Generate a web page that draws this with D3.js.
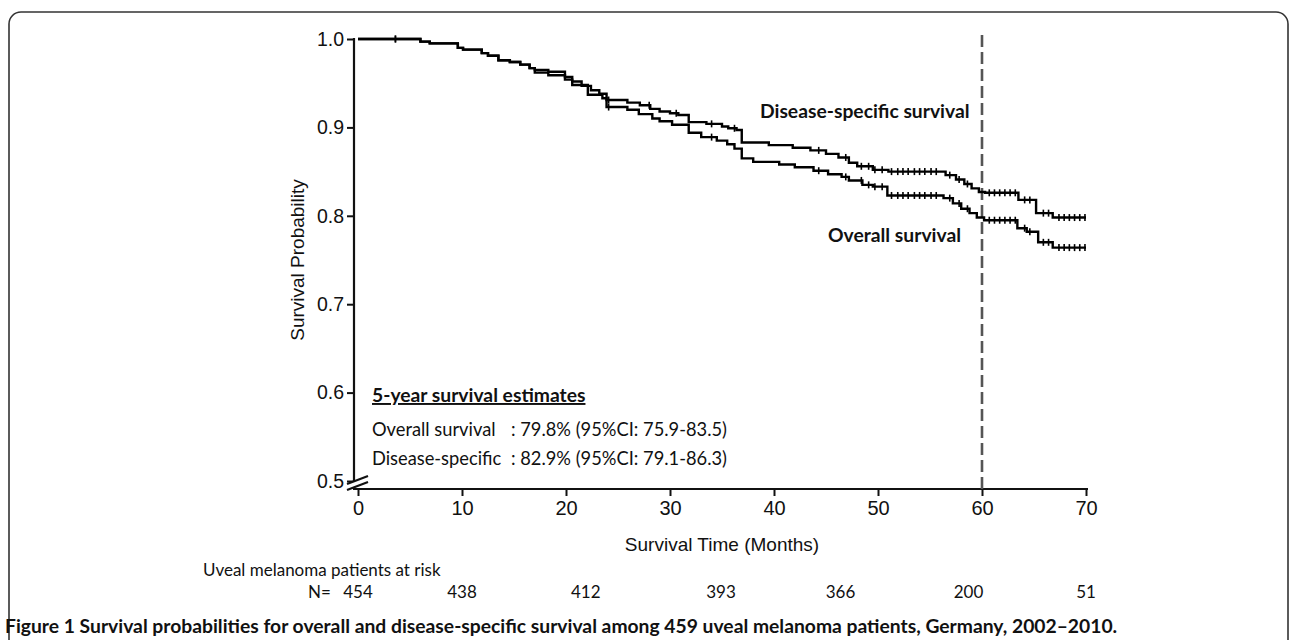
<!doctype html>
<html lang="en">
<head>
<meta charset="utf-8">
<title>Survival probabilities - D3</title>
<style>
  body { margin: 0; background: #fff; }
  svg text { font-family: "Liberation Sans", Arial, sans-serif; fill: #111; }
  svg text.cal { font-family: Lato, "Open Sans", sans-serif; }
</style>
</head>
<body>
<svg id="chart"></svg>
<script src="https://cdn.jsdelivr.net/npm/d3@7/dist/d3.min.js"></script>
<script>
  const width = 1290;
  const height = 640;

  // Kaplan-Meier steps (months, survival probability)
  const dssTimes = [0, 6.0, 6.9, 9.6, 10.1, 11.9, 12.5, 13.5, 14.6, 15.6, 16.5, 17.0, 18.3, 19.9, 20.6, 21.5, 22.4, 23.2, 23.9, 25.9, 27.1, 28.1, 29.0, 30.0, 30.8, 31.8, 33.5, 35.0, 35.6, 36.4, 36.9, 39.5, 41.8, 43.5, 45.0, 46.2, 47.2, 48.0, 49.5, 51.0, 56.5, 57.5, 58.3, 59.0, 59.7, 60.3, 63.5, 65.2, 66.8];
  const dssSurv  = [1.000, 0.997, 0.995, 0.990, 0.988, 0.984, 0.981, 0.976, 0.974, 0.971, 0.967, 0.965, 0.963, 0.957, 0.952, 0.947, 0.942, 0.938, 0.931, 0.928, 0.925, 0.921, 0.918, 0.916, 0.914, 0.906, 0.904, 0.901, 0.899, 0.897, 0.883, 0.880, 0.877, 0.874, 0.870, 0.866, 0.860, 0.856, 0.852, 0.850, 0.846, 0.841, 0.836, 0.831, 0.827, 0.826, 0.818, 0.803, 0.798];

  const osTimes = [0, 6.0, 6.9, 9.6, 10.1, 11.9, 12.5, 13.5, 14.6, 15.6, 16.5, 17.0, 18.3, 19.9, 20.6, 22.1, 23.5, 23.9, 25.9, 27.0, 28.3, 29.0, 30.2, 31.8, 33.0, 34.5, 35.5, 36.2, 36.9, 38.0, 40.5, 42.0, 43.8, 45.2, 46.5, 47.2, 48.5, 49.5, 50.9, 56.3, 57.2, 58.0, 58.8, 59.5, 60.2, 63.4, 64.3, 65.4, 66.8];
  const osSurv  = [1.000, 0.997, 0.995, 0.990, 0.988, 0.984, 0.981, 0.976, 0.974, 0.971, 0.967, 0.962, 0.959, 0.954, 0.948, 0.937, 0.933, 0.923, 0.920, 0.915, 0.910, 0.907, 0.903, 0.894, 0.889, 0.885, 0.881, 0.876, 0.865, 0.861, 0.858, 0.855, 0.851, 0.847, 0.844, 0.840, 0.835, 0.833, 0.823, 0.820, 0.814, 0.808, 0.803, 0.798, 0.795, 0.786, 0.782, 0.770, 0.764];

  // censoring marks (months)
  const dssCensor = [3.6, 24.1, 28.0, 30.6, 34.0, 36.2, 44.3, 46.9, 48.4, 49.1, 49.7, 50.4, 51.3, 51.9, 52.4, 52.9, 53.5, 54.0, 54.5, 55.1, 55.6, 56.9, 57.8, 58.6, 60.7, 61.2, 61.7, 62.2, 62.7, 63.2, 64.1, 64.6, 65.9, 66.4, 67.4, 67.9, 68.4, 68.9, 69.4, 69.9];
  const osCensor  = [3.6, 24.1, 34.0, 44.3, 46.9, 48.4, 49.1, 49.7, 50.4, 51.3, 51.9, 52.4, 52.9, 53.5, 54.0, 54.5, 55.1, 55.6, 56.9, 57.8, 58.6, 60.7, 61.2, 61.7, 62.2, 62.7, 63.2, 64.1, 64.6, 65.9, 66.4, 67.4, 67.9, 68.4, 68.9, 69.4, 69.9];

  const xTicks = [0, 10, 20, 30, 40, 50, 60, 70];
  const yTicks = [0.5, 0.6, 0.7, 0.8, 0.9, 1.0];
  const riskCounts = [454, 438, 412, 393, 366, 200, 51];
  const riskAt = [0, 10, 21.9, 34.9, 46.4, 58.7, 70];
  const landmark = 60;

  const estimateRows = [
    ['Overall survival', ': 79.8% (95%CI: 75.9-83.5)'],
    ['Disease-specific', ': 82.9% (95%CI: 79.1-86.3)']
  ];

  const svg = d3.select('#chart')
    .attr('width', width)
    .attr('height', height)
    .attr('viewBox', [0, 0, width, height]);

  // 外框
  svg.append('rect')
    .attr('x', 9).attr('y', 12)
    .attr('width', 1279).attr('height', 660)
    .attr('rx', 12)
    .attr('fill', 'none')
    .attr('stroke', '#333')
    .attr('stroke-width', 1.6);

  const x = d3.scaleLinear().domain([0, 70]).range([358, 1086]);
  const y = d3.scaleLinear().domain([0.5, 1]).range([481, 39]);
  const axisY = 489;
  const axisX = 354;

  // y axis
  svg.append('g')
    .attr('transform', 'translate(' + axisX + ',0)')
    .call(d3.axisLeft(y).tickValues(yTicks).tickFormat(d3.format('.1f')).tickSize(7).tickSizeOuter(0).tickPadding(3))
    .call(g => g.select('.domain').remove())
    .call(g => g.selectAll('.tick line').attr('stroke', '#111').attr('stroke-width', 2))
    .call(g => g.selectAll('.tick text').attr('font-size', 19.5).attr('font-family', '"Liberation Sans", Arial, sans-serif').attr('fill', '#111'));

  svg.append('line')
    .attr('x1', axisX).attr('x2', axisX)
    .attr('y1', y(1) - 1).attr('y2', axisY)
    .attr('stroke', '#111').attr('stroke-width', 2.2);

  // axis break
  svg.append('path')
    .attr('d', `M${axisX - 7},${y(0.5) + 3} L${axisX + 14},${y(0.5) - 5} L${axisX + 14},${y(0.5) + 1} L${axisX - 7},${y(0.5) + 9} Z`)
    .attr('fill', '#fff');
  [0, 6].forEach(dy => {
    svg.append('line')
      .attr('x1', axisX - 7).attr('y1', y(0.5) + 3 + dy)
      .attr('x2', axisX + 14).attr('y2', y(0.5) - 5 + dy)
      .attr('stroke', '#111').attr('stroke-width', 2);
  });

  // x axis
  svg.append('g')
    .attr('transform', 'translate(0,' + axisY + ')')
    .call(d3.axisBottom(x).tickValues(xTicks).tickSize(7).tickSizeOuter(0).tickPadding(5))
    .call(g => g.select('.domain').remove())
    .call(g => g.selectAll('.tick line').attr('stroke', '#111').attr('stroke-width', 2))
    .call(g => g.selectAll('.tick text').attr('font-size', 20).attr('font-family', '"Liberation Sans", Arial, sans-serif').attr('fill', '#111'));

  svg.append('line')
    .attr('x1', axisX - 1).attr('x2', x(70) + 2)
    .attr('y1', axisY).attr('y2', axisY)
    .attr('stroke', '#111').attr('stroke-width', 2.2);

  // axis titles
  svg.append('text')
    .attr('transform', 'translate(304,' + ((y(1) + y(0.5)) / 2) + ') rotate(-90)')
    .attr('text-anchor', 'middle')
    .attr('font-size', 19)
    .text('Survival Probability');

  svg.append('text')
    .attr('x', (x(0) + x(70)) / 2)
    .attr('y', 551)
    .attr('text-anchor', 'middle')
    .attr('font-size', 19)
    .text('Survival Time (Months)');

  // 60 month landmark
  svg.append('line')
    .attr('x1', x(landmark)).attr('x2', x(landmark))
    .attr('y1', 35).attr('y2', axisY)
    .attr('stroke', '#555')
    .attr('stroke-width', 2.6)
    .attr('stroke-dasharray', '12,5');

  // KM curves
  const line = d3.line()
    .x(d => x(d[0]))
    .y(d => y(d[1]))
    .curve(d3.curveStepAfter);

  function drawCurve(times, surv, censor) {
    const pts = times.map((t, i) => [t, surv[i]]);
    pts.push([70, surv[surv.length - 1]]);
    svg.append('path')
      .datum(pts)
      .attr('d', line)
      .attr('fill', 'none')
      .attr('stroke', '#000')
      .attr('stroke-width', 2.4);

    const survAt = t => surv[Math.max(0, d3.bisectRight(times, t) - 1)];
    svg.append('g')
      .selectAll('line')
      .data(censor)
      .join('line')
      .attr('x1', d => x(d)).attr('x2', d => x(d))
      .attr('y1', d => y(survAt(d)) - 3.5)
      .attr('y2', d => y(survAt(d)) + 3.5)
      .attr('stroke', '#000')
      .attr('stroke-width', 1.6);
  }

  drawCurve(osTimes, osSurv, osCensor);
  drawCurve(dssTimes, dssSurv, dssCensor);

  // curve labels
  svg.append('text').attr('class', 'cal')
    .attr('x', 760).attr('y', 118)
    .attr('font-size', 19.3).attr('font-weight', 'bold')
    .text('Disease-specific survival');

  svg.append('text').attr('class', 'cal')
    .attr('x', 828).attr('y', 242)
    .attr('font-size', 19.3).attr('font-weight', 'bold')
    .text('Overall survival');

  // 5-year estimates block
  svg.append('text').attr('class', 'cal')
    .attr('x', 372).attr('y', 402)
    .attr('font-size', 19.3).attr('font-weight', 'bold')
    .attr('text-decoration', 'underline')
    .text('5-year survival estimates');

  estimateRows.forEach((r, i) => {
    const t = svg.append('text').attr('class', 'cal')
      .attr('y', 436 + i * 29)
      .attr('font-size', 18.3);
    t.append('tspan').attr('x', 372).text(r[0]);
    t.append('tspan').attr('x', 511).text(r[1]);
  });

  // numbers at risk
  svg.append('text').attr('class', 'cal')
    .attr('x', 203).attr('y', 576)
    .attr('font-size', 17)
    .text('Uveal melanoma patients at risk');

  svg.append('text').attr('class', 'cal')
    .attr('x', 308).attr('y', 598)
    .attr('font-size', 17)
    .text('N=');

  svg.append('g')
    .selectAll('text')
    .data(riskCounts)
    .join('text')
    .attr('class', 'cal')
    .attr('x', (d, i) => x(riskAt[i]))
    .attr('y', 598)
    .attr('text-anchor', 'middle')
    .attr('font-size', 17)
    .text(d => d);

  // caption
  svg.append('text').attr('class', 'cal')
    .attr('x', 5).attr('y', 633)
    .attr('font-size', 19.3).attr('font-weight', 'bold')
    .text('Figure 1 Survival probabilities for overall and disease-specific survival among 459 uveal melanoma patients, Germany, 2002\u20132010.');
</script>
</body>
</html>
